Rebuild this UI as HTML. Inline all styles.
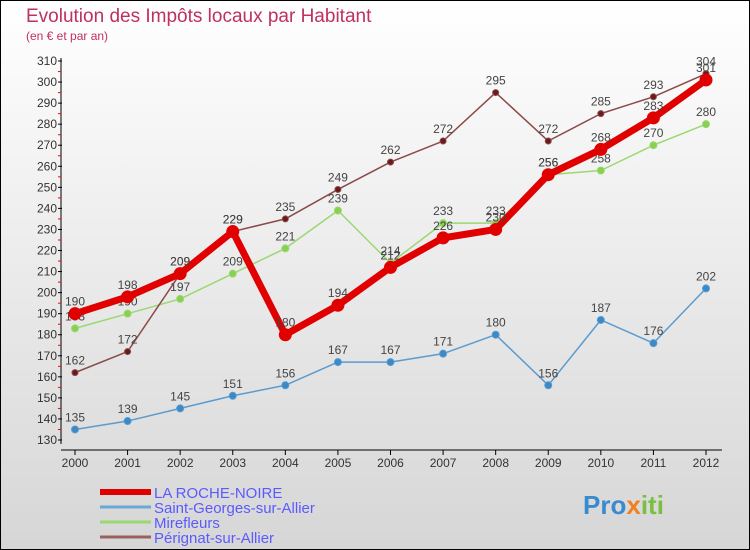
<!DOCTYPE html>
<html><head><meta charset="utf-8"><style>
body{margin:0}
#c{width:750px;height:550px;position:relative;box-sizing:border-box;border:1px solid #000;background:linear-gradient(#ffffff,#d6d6d6);font-family:"Liberation Sans",sans-serif;overflow:hidden}
</style></head><body>
<div id="c">
<svg id="s" width="750" height="550" style="position:absolute;left:-1px;top:-1px">
<text x="26" y="22" font-size="19" fill="#c0305f">Evolution des Impôts locaux par Habitant</text>
<text x="26" y="40" font-size="12" fill="#c0305f">(en € et par an)</text>
</svg>
</div>
<script>
const years=[2000,2001,2002,2003,2004,2005,2006,2007,2008,2009,2010,2011,2012];
const yTicks=[130,140,150,160,170,180,190,200,210,220,230,240,250,260,270,280,290,300,310];
const rocheNoire=[190,198,209,229,180,194,212,226,230,256,268,283,301];
const saintGeorges=[135,139,145,151,156,167,167,171,180,156,187,176,202];
const mirefleurs=[183,190,197,209,221,239,214,233,233,256,258,270,280];
const perignat=[162,172,209,229,235,249,262,272,295,272,285,293,304];
const svg=document.getElementById('s');const NS='http://www.w3.org/2000/svg';
function X(i){return 75+i*(706-75)/(years.length-1);}
function Y(v){return 440-(v-130)*(440-61)/180;}
function mk(t,a,p){const e=document.createElementNS(NS,t);for(const k in a)e.setAttribute(k,a[k]);(p||svg).appendChild(e);return e;}
let e;
e=mk('line',{x1:61,y1:58,x2:61,y2:444,stroke:'#000'});


e=mk('line',{x1:61,y1:450,x2:722,y2:450,stroke:'#000'});


yTicks.forEach((v,i)=>{const y=Y(v);
 mk('line',{x1:58,y1:y,x2:62,y2:y,stroke:'#000'});
 if(i<yTicks.length-1)mk('line',{x1:58,y1:y-10.5,x2:61,y2:y-10.5,stroke:'#f00'});
 e=mk('text',{x:57,y:y+4,'font-size':12,'text-anchor':'end',fill:'#333'});e.textContent=v;
 
 
});
years.forEach((yr,i)=>{const x=X(i);
 mk('line',{x1:x,y1:450,x2:x,y2:455,stroke:'#000'});
 e=mk('text',{x:x,y:467,'font-size':12,'text-anchor':'middle',fill:'#333'});e.textContent=yr;
 
 
});
function series(d,col,w,r,dot,name){
 const g=mk('g',{});
 
 
 mk('polyline',{points:d.map((v,i)=>X(i)+','+Y(v)).join(' '),fill:'none',stroke:col,'stroke-width':w,'stroke-linejoin':'round'},g);
 d.forEach((v,i)=>{
  const c=mk('circle',{cx:X(i),cy:Y(v),r:r,fill:dot,stroke:col,'stroke-width':1},g);
  
  
  const t=mk('text',{x:X(i),y:Y(v)-8,'font-size':12,'text-anchor':'middle',fill:'#444'},g);t.textContent=v;
  
  
 });
}
series(saintGeorges,'#5a9bd0',1.5,3.5,'#3a8ac8','saint-georges-series');
series(mirefleurs,'#9ad870',1.5,3.5,'#8ad050','mirefleurs-series');
series(perignat,'#8a4a4a',1.5,3,'#6a1a1a','perignat-series');
series(rocheNoire,'#e00000',7,6,'#e00000','la-roche-noire-series');
const legend=[['LA ROCHE-NOIRE','#e00000',6],['Saint-Georges-sur-Allier','#6aa8d8',3],['Mirefleurs','#9ad870',3],['Pérignat-sur-Allier','#9a6060',3]];
legend.forEach((l,i)=>{const y=492+i*15;
 const g=mk('g',{});
 
 
 mk('line',{x1:100,y1:y,x2:151,y2:y,stroke:l[1],'stroke-width':l[2]},g);
 const t=mk('text',{x:154,y:y+6,'font-size':15,fill:'#5a5aff'},g);t.textContent=l[0];
});
e=mk('text',{x:583,y:514,'font-size':26,'font-weight':'bold',fill:'#3a8ad0'});
e.innerHTML='<tspan fill="#3a8ad0">Pro</tspan><tspan fill="#f08020">x</tspan><tspan fill="#7ac040">iti</tspan>';


</script>
</body></html>
